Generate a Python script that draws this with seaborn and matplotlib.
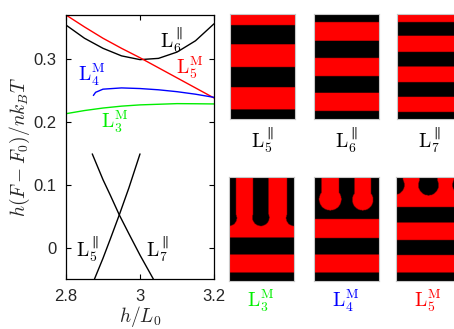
import numpy as np
import pandas as pd
import matplotlib
matplotlib.use("Agg")
import matplotlib.pyplot as plt
import seaborn as sns
from matplotlib.colors import ListedColormap

# free energy curves
x_L6 = [2.80, 2.85, 2.90, 2.95, 3.00, 3.05, 3.10, 3.15, 3.20]
y_L6 = [0.354, 0.333, 0.317, 0.305, 0.299, 0.301, 0.311, 0.329, 0.356]
x_L5M = [2.80, 2.85, 2.90, 2.95, 3.00, 3.05, 3.10, 3.15, 3.20]
y_L5M = [0.370, 0.351, 0.333, 0.317, 0.302, 0.286, 0.270, 0.254, 0.238]
x_L4M = [2.874, 2.88, 2.90, 2.95, 3.00, 3.05, 3.10, 3.15, 3.20]
y_L4M = [0.242, 0.247, 0.252, 0.254, 0.253, 0.251, 0.248, 0.244, 0.239]
x_L3M = [2.80, 2.85, 2.90, 2.95, 3.00, 3.05, 3.10, 3.15, 3.20]
y_L3M = [0.213, 0.218, 0.222, 0.225, 0.227, 0.228, 0.229, 0.2288, 0.2285]
x_L5 = [2.877, 2.90, 2.92, 2.944, 2.97, 3.00]
y_L5 = [-0.05, -0.017, 0.014, 0.052, 0.095, 0.149]
x_L7 = [2.871, 2.90, 2.92, 2.944, 2.97, 3.00, 3.036]
y_L7 = [0.149, 0.108, 0.083, 0.052, 0.022, -0.012, -0.05]

curve_names = ["L6", "L5M", "L4M", "L3M", "L5", "L7"]
curve_colors = {"L6": "black", "L5M": "#ff0000", "L4M": "#0000ff",
                "L3M": "#00ee00", "L5": "black", "L7": "black"}

# stripe snapshots: colour sequence (0 black, 1 red) and boundaries from top
stripes_L5 = ([1, 0, 1, 0, 1, 0], [0, 0.105, 0.29, 0.506, 0.697, 0.908, 1])
stripes_L6 = ([0, 1, 0, 1, 0, 1, 0], [0, 0.077, 0.256, 0.417, 0.59, 0.75, 0.923, 1])
stripes_L7 = ([1, 0, 1, 0, 1, 0, 1, 0],
              [0, 0.076, 0.208, 0.36, 0.498, 0.65, 0.789, 0.934, 1])
stripes_L3M = ([1, 0, 1, 0], [0, 0.583, 0.744, 0.92, 1])
stripes_L4M = ([0, 1, 0, 1, 0], [0, 0.405, 0.587, 0.744, 0.92, 1])
stripes_L5M = ([1, 0, 1, 0, 1, 0], [0, 0.29, 0.436, 0.606, 0.75, 0.92, 1])
# fingers hanging from the top: (centre, neck half width, bulb half width, tip depth)
fingers_L3M = [(0.0, 0.11, 0.12, 0.47), (0.49, 0.12, 0.13, 0.47), (1.0, 0.11, 0.12, 0.47)]
fingers_L4M = [(0.25, 0.135, 0.17, 0.32), (0.75, 0.13, 0.16, 0.32)]
fingers_L5M = [(-0.02, 0.13, 0.15, 0.17), (0.5, 0.14, 0.155, 0.176), (1.02, 0.13, 0.15, 0.17)]


def snapshot(stripes, fingers=(), nx=130, ny=208):
    cols, bounds = stripes
    xs = (np.arange(nx) + 0.5) / nx
    ys = (np.arange(ny) + 0.5) / ny
    X, Y = np.meshgrid(xs, ys)
    img = np.zeros((ny, nx))
    for c, top, bot in zip(cols, bounds[:-1], bounds[1:]):
        img[(Y >= top) & (Y < bot)] = c
    top_col = cols[0]
    for xc, neck, bulb, tip in fingers:
        ry = bulb * 65 / 104
        dx = X - xc
        body = (np.abs(dx) <= neck) & (Y <= tip - ry)
        cap = (dx / bulb) ** 2 + ((Y - (tip - ry)) / ry) ** 2 <= 1
        img[body | cap] = 1 - top_col
    return img


def draw_snapshot(fig, rect, img):
    ax = fig.add_axes(rect)
    ax.imshow(img, cmap=ListedColormap(["black", "#ff0000"]), vmin=0, vmax=1,
              extent=[0, 1, 1, 0], aspect="auto", interpolation="bilinear")
    ax.set_xticks([])
    ax.set_yticks([])
    for s in ax.spines.values():
        s.set_color("#c8c8c8")
        s.set_linewidth(0.8)
    return ax


def main():
    sns.set_style("ticks")
    plt.rcParams["font.family"] = ["Liberation Sans"]
    plt.rcParams["mathtext.fontset"] = "cm"

    xs = [x_L6, x_L5M, x_L4M, x_L3M, x_L5, x_L7]
    ys = [y_L6, y_L5M, y_L4M, y_L3M, y_L5, y_L7]
    df = pd.concat([pd.DataFrame({"x": x, "y": y, "curve": n})
                    for n, x, y in zip(curve_names, xs, ys)])

    fig = plt.figure(figsize=(4.54, 3.29), dpi=100)
    ax = fig.add_axes([66 / 454, 1 - 279 / 329, 148 / 454, 264 / 329])
    sns.lineplot(data=df, x="x", y="y", hue="curve", units="curve",
                 estimator=None, palette=curve_colors, linewidth=1.0,
                 legend=False, ax=ax)
    ax.set_xlim(2.8, 3.2)
    ax.set_ylim(-0.05, 0.37)
    ax.set_xticks([2.8, 3.0, 3.2])
    ax.set_xticklabels(["2.8", "3", "3.2"])
    ax.set_yticks([0, 0.1, 0.2, 0.3])
    ax.set_yticklabels(["0", "0.1", "0.2", "0.3"])
    ax.tick_params(direction="in", length=3.5, width=0.8, labelsize=12,
                   top=True, right=True, pad=7, color="black")
    for s in ax.spines.values():
        s.set_color("black")
        s.set_linewidth(0.9)
    ax.set_xlabel(r"$h/L_0$", fontsize=14, labelpad=0)
    ax.set_ylabel(r"$h(F-F_0)/nk_BT$", fontsize=14, labelpad=1)

    fs = 14
    ax.text(3.084, 0.330, r"$\mathrm{L}_6^{\parallel}$", color="black", fontsize=fs, ha="center", va="center")
    ax.text(3.135, 0.286, r"$\mathrm{L}_5^{\mathrm{M}}$", color="#ff0000", fontsize=fs, ha="center", va="center")
    ax.text(2.868, 0.275, r"$\mathrm{L}_4^{\mathrm{M}}$", color="#0000ff", fontsize=fs, ha="center", va="center")
    ax.text(2.930, 0.200, r"$\mathrm{L}_3^{\mathrm{M}}$", color="#00ee00", fontsize=fs, ha="center", va="center")
    ax.text(2.857, -0.002, r"$\mathrm{L}_5^{\parallel}$", color="black", fontsize=fs, ha="center", va="center")
    ax.text(3.046, -0.003, r"$\mathrm{L}_7^{\parallel}$", color="black", fontsize=fs, ha="center", va="center")

    W, H = 454, 329
    top_panels = [(230, stripes_L5, (), r"$\mathrm{L}_5^{\parallel}$", "black"),
                  (314, stripes_L6, (), r"$\mathrm{L}_6^{\parallel}$", "black"),
                  (397, stripes_L7, (), r"$\mathrm{L}_7^{\parallel}$", "black")]
    bot_panels = [(229, stripes_L3M, fingers_L3M, r"$\mathrm{L}_3^{\mathrm{M}}$", "#00ee00"),
                  (314, stripes_L4M, fingers_L4M, r"$\mathrm{L}_4^{\mathrm{M}}$", "#0000ff"),
                  (396, stripes_L5M, fingers_L5M, r"$\mathrm{L}_5^{\mathrm{M}}$", "#ff0000")]
    for (px, st, fg, lab, col) in top_panels:
        draw_snapshot(fig, [px / W, 1 - 119 / H, 65 / W, 105 / H], snapshot(st, fg))
        fig.text((px + 32) / W, 1 - 140 / H, lab, color=col, fontsize=fs, ha="center", va="center")
    for (px, st, fg, lab, col) in bot_panels:
        draw_snapshot(fig, [px / W, 1 - 281 / H, 65 / W, 104 / H], snapshot(st, fg))
        fig.text((px + 32) / W, 1 - 301 / H, lab, color=col, fontsize=fs, ha="center", va="center")

    fig.savefig("out.png", dpi=100)


if __name__ == "__main__":
    main()
